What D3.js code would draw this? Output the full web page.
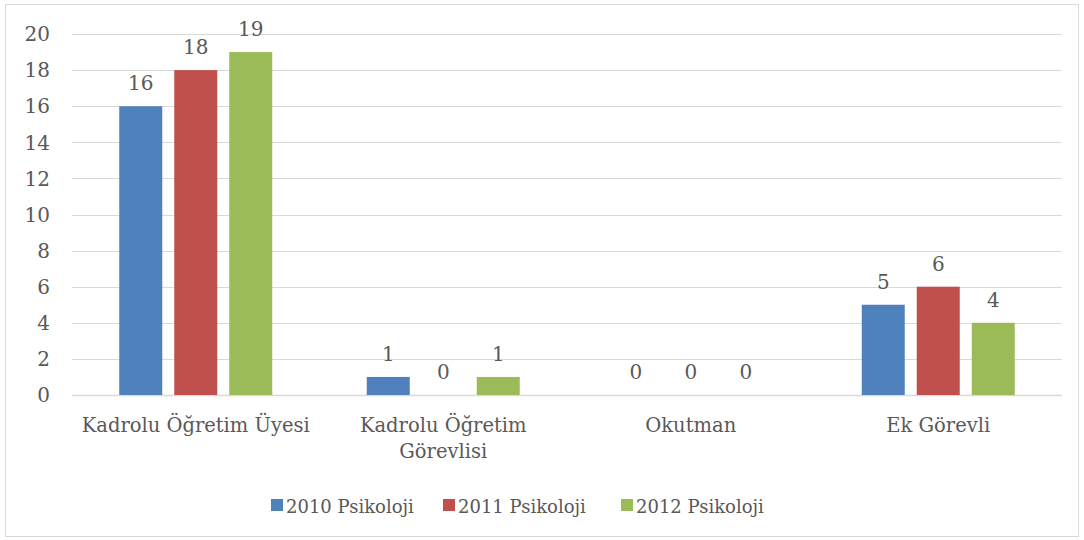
<!DOCTYPE html>
<html>
<head>
<meta charset="utf-8">
<script src="https://cdn.jsdelivr.net/npm/d3@7"></script>
<style>
  body { margin: 0; background: #fff; }
  text { font-family: "DejaVu Serif", "Liberation Serif", serif; fill: #595959; }
</style>
</head>
<body>
<div id="chart"></div>
<script>
var categories = ["Kadrolu Öğretim Üyesi", "Kadrolu Öğretim Görevlisi", "Okutman", "Ek Görevli"]
// label lines as wrapped in the picture
var categoryLines = [["Kadrolu Öğretim Üyesi"], ["Kadrolu Öğretim", "Görevlisi"], ["Okutman"], ["Ek Görevli"]]
var series = ["2010 Psikoloji", "2011 Psikoloji", "2012 Psikoloji"]
var colors = ["#4f81bd", "#c0504d", "#9bbb59"]
var values2010 = [16, 1, 0, 5]
var values2011 = [18, 0, 0, 6]
var values2012 = [19, 1, 0, 4]
var yTicks = [0, 2, 4, 6, 8, 10, 12, 14, 16, 18, 20]

var allValues = [values2010, values2011, values2012]

var width = 1084, height = 540
var plotLeft = 72, plotRight = 1062, plotTop = 34, plotBottom = 395

var svg = d3.select("#chart").append("svg")
    .attr("width", width)
    .attr("height", height)

// outer border
svg.append("rect")
    .attr("x", 5.5).attr("y", 4.5)
    .attr("width", 1073).attr("height", 532)
    .attr("fill", "#fff")
    .attr("stroke", "#d9d9d9")

var y = d3.scaleLinear().domain([0, 20]).range([plotBottom, plotTop])
var x0 = d3.scaleBand().domain(categories).range([plotLeft, plotRight])
var groupW = 153
var x1 = d3.scaleBand().domain(series).range([0, groupW]).paddingInner(12 / 55)
var off = (x0.bandwidth() - groupW) / 2

// gridlines
svg.append("g")
    .selectAll("line")
    .data(yTicks)
    .enter().append("line")
    .attr("x1", plotLeft).attr("x2", plotRight)
    .attr("y1", function(d) { return Math.round(y(d)) + 0.5 })
    .attr("y2", function(d) { return Math.round(y(d)) + 0.5 })
    .attr("stroke", "#d9d9d9")
    .attr("stroke-width", function(d) { return d == 0 ? 1.5 : 1 })

// y axis labels
svg.append("g")
    .selectAll("text")
    .data(yTicks)
    .enter().append("text")
    .attr("x", 50)
    .attr("y", function(d) { return y(d) })
    .attr("dy", "0.36em")
    .attr("text-anchor", "end")
    .attr("font-size", 20)
    .text(function(d) { return d })

// bars
for (var s = 0; s < series.length; s++) {
  var g = svg.append("g")
  g.selectAll("rect")
    .data(allValues[s])
    .enter().append("rect")
    .attr("x", function(d, i) { return x0(categories[i]) + off + x1(series[s]) })
    .attr("y", function(d) { return y(d) })
    .attr("width", x1.bandwidth())
    .attr("height", function(d) { return plotBottom - y(d) })
    .attr("fill", colors[s])
  g.selectAll("text")
    .data(allValues[s])
    .enter().append("text")
    .attr("x", function(d, i) { return x0(categories[i]) + off + x1(series[s]) + x1.bandwidth() / 2 })
    .attr("y", function(d) { return y(d) - 16 })
    .attr("text-anchor", "middle")
    .attr("font-size", 20)
    .text(function(d) { return d })
}

// category labels
categories.forEach(function(c, i) {
  var t = svg.append("text")
      .attr("x", x0(c) + x0.bandwidth() / 2)
      .attr("y", 432)
      .attr("text-anchor", "middle")
      .attr("font-size", 19.5)
  categoryLines[i].forEach(function(line, j) {
    t.append("tspan")
      .attr("x", x0(c) + x0.bandwidth() / 2)
      .attr("dy", j == 0 ? 0 : 26)
      .text(line)
  })
})

// legend
var legendX = [271, 443, 621]
series.forEach(function(s, i) {
  svg.append("rect")
    .attr("x", legendX[i]).attr("y", 499)
    .attr("width", 12).attr("height", 12)
    .attr("fill", colors[i])
  svg.append("text")
    .attr("x", legendX[i] + 15).attr("y", 513)
    .attr("font-size", 18)
    .text(s)
})
</script>
</body>
</html>
